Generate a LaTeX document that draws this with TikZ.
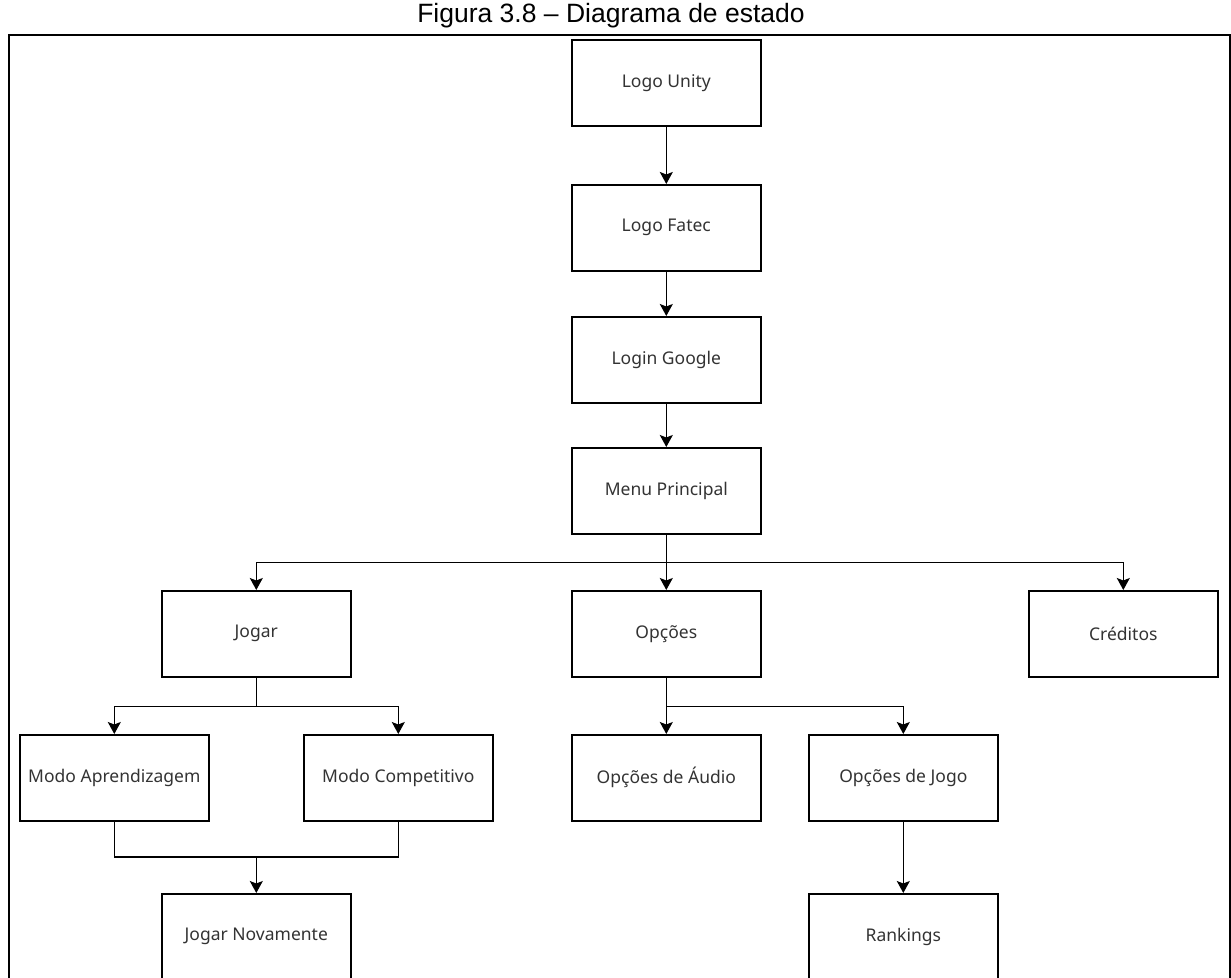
\documentclass[tikz,border=0pt]{standalone}
\usepackage{fontspec}
\setmainfont{Noto Sans}
\newfontfamily\titlefont{Liberation Sans}
\usetikzlibrary{arrows.meta}
\definecolor{labelgray}{HTML}{333333}
\tikzset{
  state/.style={draw=black, line width=1.6pt, minimum width=189pt, minimum height=86pt,
    inner sep=0pt, text=labelgray, font=\fontsize{17.5}{20}\selectfont, anchor=north west},
  flow/.style={line width=1.6pt, -{Stealth[length=12pt,width=13pt,inset=2.5pt]}},
  link/.style={line width=1.6pt},
  frameline/.style={line width=2.2pt}
}
\begin{document}
\begin{tikzpicture}[x=1pt,y=-1pt]
\useasboundingbox (0,0) rectangle (1231,977);
\clip (0,0) rectangle (1231,977);
\fill[white] (0,0) rectangle (1231,977);

% caption and outer frame
\node[font=\titlefont\fontsize{26.5}{30}\selectfont, anchor=base, inner sep=0pt] (title) at (611,22) {Figura 3.8 \textendash{} Diagrama de estado};
\coordinate (fl) at (9,980);
\coordinate (ftl) at (9,35);
\coordinate (ftr) at (1230,35);
\coordinate (fr) at (1230,980);
\draw[frameline] (fl) -- (ftl) -- (ftr) -- (fr);

% states
\node[state] (unity) at (571,39) {Logo Unity};
\node[state] (fatec) at (571,184) {Logo Fatec};
\node[state] (login) at (571,316) {Login Google};
\node[state] (menu) at (571,447) {Menu Principal};
\node[state] (jogar) at (161,590) {Jogar};
\node[state] (opcoes) at (571,590) {Opções};
\node[state] (creditos) at (1028,590) {Créditos};
\node[state] (aprend) at (19,734) {Modo Aprendizagem};
\node[state] (compet) at (303,734) {Modo Competitivo};
\node[state] (audio) at (571,734) {Opções de Áudio};
\node[state] (ojogo) at (808,734) {Opções de Jogo};
\node[state] (novamente) at (161,893) {Jogar Novamente};
\node[state] (rankings) at (808,893) {Rankings};

% linear start-up sequence
\draw[flow] (unity) -- (fatec);
\draw[flow] (fatec) -- (login);
\draw[flow] (login) -- (menu);

% main menu branches
\draw[link] (menu.south) -- ++(0,28) coordinate (mbus);
\draw[flow] (mbus) -| (jogar.north);
\draw[flow] (mbus) -- (opcoes.north);
\draw[flow] (mbus) -| (creditos.north);

% play modes
\draw[link] (jogar.south) -- ++(0,29) coordinate (jbus);
\draw[flow] (jbus) -| (aprend.north);
\draw[flow] (jbus) -| (compet.north);

% options
\draw[link] (opcoes.south) -- ++(0,29) coordinate (obus);
\draw[flow] (obus) -- (audio.north);
\draw[flow] (obus) -| (ojogo.north);
\draw[flow] (ojogo) -- (rankings);

% both modes lead to replay
\coordinate (merge) at (novamente.north |- 0,857);
\draw[link] (aprend.south) |- (merge);
\draw[link] (compet.south) |- (merge);
\draw[flow] (merge) -- (novamente.north);
\end{tikzpicture}
\end{document}
